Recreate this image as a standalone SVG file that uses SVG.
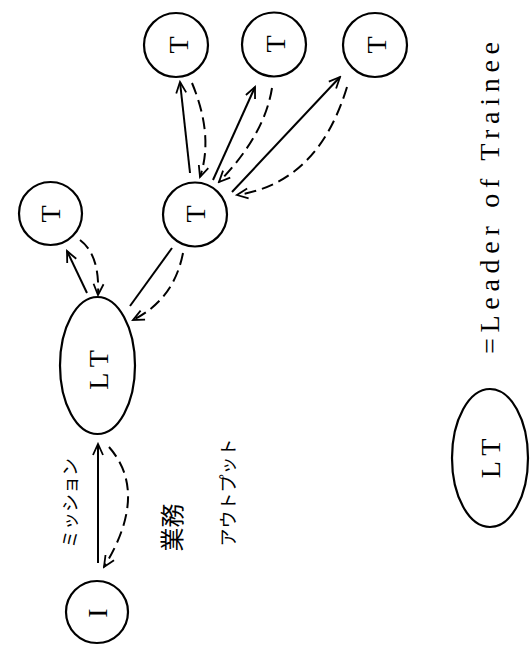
<svg xmlns="http://www.w3.org/2000/svg" width="532" height="649" viewBox="0 0 532 649">
<style>
.node{fill:none;stroke:#000;stroke-width:2.2}
.lbl{font-family:"Liberation Serif",serif;font-size:28px;fill:#000;text-anchor:middle}
.jp{font-family:"Noto Sans CJK JP",sans-serif;fill:#000;text-anchor:middle}
.solid{fill:none;stroke:#000;stroke-width:2}
.dash{fill:none;stroke:#000;stroke-width:2;stroke-dasharray:12 6}
</style>
<defs>
<marker id="arr" viewBox="-12 -7 14 14" refX="0" refY="0" markerWidth="14" markerHeight="14" markerUnits="userSpaceOnUse" orient="auto">
<path d="M-11,-5 L0,0 L-11,5" fill="none" stroke="#000" stroke-width="1.8" stroke-dasharray="none"/>
</marker>
</defs>
<rect width="532" height="649" fill="#fff"/>
<g id="connectors">
<path class="solid" d="M98,563 L98,444" marker-end="url(#arr)"/>
<path class="dash" d="M109,447 Q149.5,493 104,567" marker-end="url(#arr)"/>
<path class="solid" d="M87,293 L67,251" marker-end="url(#arr)"/>
<path class="dash" d="M80,240 Q100,255 98,295" marker-end="url(#arr)"/>
<path class="solid" d="M172,248 L130,306"/>
<path class="dash" d="M183,253 Q174,299.5 133,320" marker-end="url(#arr)"/>
<path class="solid" d="M190,173 L180,82" marker-end="url(#arr)"/>
<path class="dash" d="M192,83 Q214,136 200,177" marker-end="url(#arr)"/>
<path class="solid" d="M213,180 L255,87" marker-end="url(#arr)"/>
<path class="dash" d="M272,88 Q264.5,135 219,182" marker-end="url(#arr)"/>
<path class="solid" d="M232,192 L340,77" marker-end="url(#arr)"/>
<path class="dash" d="M347,87 Q318,183 237,195" marker-end="url(#arr)"/>
</g>
<g id="node-I">
<circle class="node" cx="97" cy="612" r="31"/>
<text class="lbl" transform="translate(107,613) rotate(-90)">I</text>
</g>
<g id="node-LT">
<ellipse class="node" cx="97.5" cy="365.5" rx="37.5" ry="68.5"/>
<text class="lbl" transform="translate(108,370) rotate(-90)">L T</text>
</g>
<g id="node-T-left">
<circle class="node" cx="50.5" cy="213.5" r="31.5"/>
<text class="lbl" transform="translate(60,214) rotate(-90)">T</text>
</g>
<g id="node-T-hub">
<circle class="node" cx="195" cy="214.5" r="32"/>
<text class="lbl" transform="translate(205,214) rotate(-90)">T</text>
</g>
<g id="node-T1">
<circle class="node" cx="176" cy="45" r="32"/>
<text class="lbl" transform="translate(188,45) rotate(-90)">T</text>
</g>
<g id="node-T2">
<circle class="node" cx="274" cy="44.5" r="32"/>
<text class="lbl" transform="translate(285,44) rotate(-90)">T</text>
</g>
<g id="node-T3">
<circle class="node" cx="375" cy="45" r="32"/>
<text class="lbl" transform="translate(386,45) rotate(-90)">T</text>
</g>
<g id="labels">
<text class="jp" font-size="18" transform="translate(76.5,503) rotate(-90)">ミッション</text>
<text class="jp" font-size="24" transform="translate(180.5,527.5) rotate(-90)">業務</text>
<text class="jp" font-size="18" transform="translate(234.5,492.5) rotate(-90)">アウトプット</text>
</g>
<g id="legend">
<ellipse class="node" cx="490" cy="458" rx="38" ry="69"/>
<text class="lbl" transform="translate(500,458.5) rotate(-90)">L T</text>
<text class="lbl" style="text-anchor:start" transform="translate(499,354) rotate(-90)" textLength="312" lengthAdjust="spacing">=Leader of Trainee</text>
</g>
</svg>
